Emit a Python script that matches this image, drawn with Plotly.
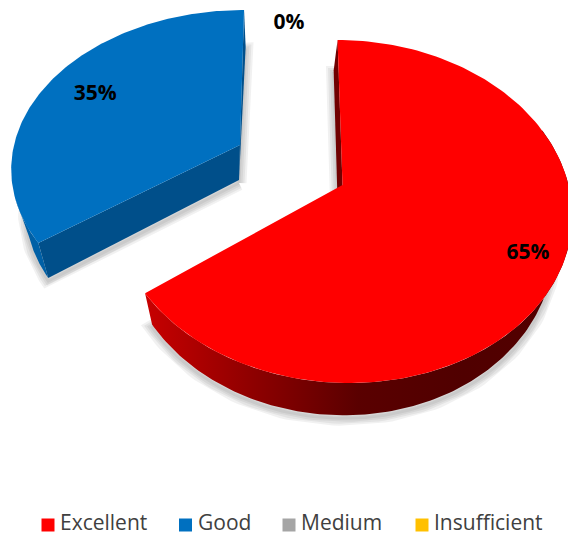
import numpy as np
import plotly.graph_objects as go

categories = ["Excellent", "Good", "Medium", "Insufficient"]
values = [65, 35, 0, 0]
slice_colors = ["#FF0000", "#0070C0", "#A5A5A5", "#FFC000"]

W, H = 568, 536

# Projection of a tilted unit disc onto the page: apex, radii, perspective, shear
RED_TOP = dict(ax=342.5, ay=185, rx=226, ry=167.4, k=0.1545, s=0.034)
RED_BOT = dict(ax=338, ay=215.5, rx=212, ry=168, k=0.159, s=0.03)
BLUE_TOP = dict(ax=240, ay=145, rx=226, ry=153.4, k=0.136, s=-0.03)
BLUE_BOT = dict(ax=239, ay=180, rx=210, ry=152.4, k=0.146, s=-0.05)

# Legend row layout (page pixels)
LEGEND_MARK_Y = 525
LEGEND_TEXT_Y = 525
LEGEND_MARK_X = [48, 185.5, 289, 422]
LEGEND_TEXT_X = [60, 198, 301, 434]


def project(p, theta_deg, f=1.0):
    t = np.radians(np.asarray(theta_deg, dtype=float))
    ux, uy = np.sin(t), np.cos(t)
    w = 1 + p["k"] * uy * f
    dx = p["rx"] * ux * f / w
    dy = -p["ry"] * uy * f / w
    return p["ax"] + dx + p["s"] * dy, p["ay"] + dy


def wedge(p, a0, a1):
    th = np.linspace(a0, a1, 160)
    x, y = project(p, th)
    return np.r_[p["ax"], x, p["ax"]], np.r_[p["ay"], y, p["ay"]]


def rim_band(top, bot, a0, a1):
    th = np.linspace(a0, a1, 160)
    x0, y0 = project(top, th)
    x1, y1 = project(bot, th)
    return np.r_[x0, x1[::-1], x0[0]], np.r_[y0, y1[::-1], y0[0]]


def radial_wall(top, bot, a):
    x0, y0 = project(top, a)
    x1, y1 = project(bot, a)
    return ([top["ax"], x0, x1, bot["ax"], top["ax"]],
            [top["ay"], y0, y1, bot["ay"], top["ay"]])


red_start, red_end = 0, 360 * values[0] / 100
blue_start, blue_end = red_end, red_end + 360 * values[1] / 100

fig = go.Figure()


def poly(x, y, color=None, gradient=None):
    kw = dict(fillgradient=gradient) if gradient else dict(fillcolor=color)
    fig.add_trace(go.Scatter(x=x, y=y, mode="lines", fill="toself",
                             line=dict(width=0, color="rgba(0,0,0,0)"),
                             hoverinfo="skip", showlegend=False, **kw))


# soft shadows under the bottom faces
for p, a0, a1 in [(RED_BOT, red_start, red_end), (BLUE_BOT, blue_start, blue_end)]:
    sx, sy = wedge(p, a0, a1)
    for lw in (15, 11, 7, 3):
        fig.add_trace(go.Scatter(x=sx, y=sy + 3, mode="lines",
                                 line=dict(width=lw, color="rgba(0,0,0,0.055)"),
                                 hoverinfo="skip", showlegend=False))

# Blue slice (exploded)
poly(*radial_wall(BLUE_TOP, BLUE_BOT, blue_end), color="#00508C")
poly(*rim_band(BLUE_TOP, BLUE_BOT, blue_start, blue_start + 17), color="#0060A6")
poly(*radial_wall(BLUE_TOP, BLUE_BOT, blue_start), color="#004F8A")
poly(*wedge(BLUE_TOP, blue_start, blue_end), color=slice_colors[1])

# Red slice
red_grad = dict(type="horizontal", start=148, stop=568,
                colorscale=[[0, "#C60000"], [0.25, "#8E0000"], [0.5, "#5A0000"],
                            [0.75, "#500000"], [1, "#540000"]])
poly(*radial_wall(RED_TOP, RED_BOT, red_start), color="#700000")
poly(*rim_band(RED_TOP, RED_BOT, 70, red_end), gradient=red_grad)
poly(*wedge(RED_TOP, red_start, red_end), color=slice_colors[0])

# Percent labels
lx0, ly0 = project(RED_TOP, (red_start + red_end) / 2, 0.855)
lx1, ly1 = project(BLUE_TOP, (blue_start + blue_end) / 2, 0.76)
zero_label = dict(x=289, y=23.5)
fig.add_trace(go.Scatter(
    x=[lx0, lx1, zero_label["x"]], y=[ly0, ly1, zero_label["y"]],
    text=[f"{values[0]}%", f"{values[1]}%", f"{values[2]}%"],
    mode="text", textposition="middle center",
    textfont=dict(family="Open Sans", size=21, color="#000000", weight="bold"),
    hoverinfo="skip", showlegend=False))

# Legend row
fig.add_trace(go.Scatter(
    x=LEGEND_MARK_X, y=[LEGEND_MARK_Y] * len(categories), mode="markers",
    marker=dict(symbol="square", size=13, color=slice_colors),
    hoverinfo="skip", showlegend=False))
fig.add_trace(go.Scatter(
    x=LEGEND_TEXT_X, y=[LEGEND_TEXT_Y] * len(categories),
    mode="text", text=categories, textposition="middle right",
    textfont=dict(family="Open Sans", size=21, color="#404040"),
    hoverinfo="skip", showlegend=False))

fig.update_layout(
    width=W, height=H, autosize=False, showlegend=False,
    margin=dict(l=0, r=0, t=0, b=0),
    paper_bgcolor="#FFFFFF", plot_bgcolor="#FFFFFF",
    xaxis=dict(range=[0, W], visible=False, fixedrange=True),
    yaxis=dict(range=[H, 0], visible=False, fixedrange=True),
)

fig.write_html("out.html", config=dict(displayModeBar=False),
               post_script="document.body.style.margin='0';document.body.style.overflow='hidden';")
